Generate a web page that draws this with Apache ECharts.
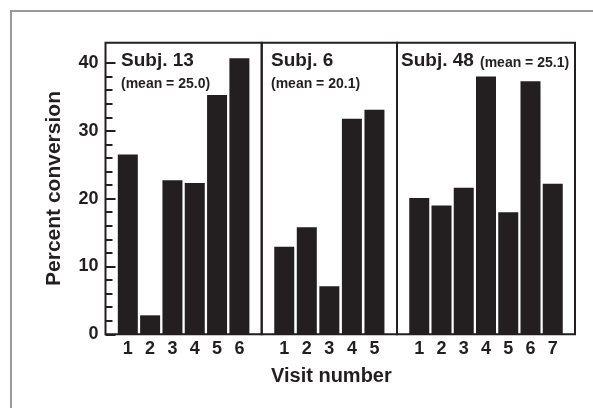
<!DOCTYPE html>
<html><head><meta charset="utf-8">
<script src="https://cdn.jsdelivr.net/npm/echarts@6/dist/echarts.min.js"></script>
<style>html,body{margin:0;padding:0;background:#fff}#c{width:593px;height:408px}</style>
</head><body><div id="c"></div>
<script>
const subjects = ['Subj. 13', 'Subj. 6', 'Subj. 48'];
const means = ['(mean = 25.0)', '(mean = 20.1)', '(mean = 25.1)'];
const visits13 = [1, 2, 3, 4, 5, 6];
const values13 = [26.5, 2.8, 22.7, 22.3, 35.3, 40.7];
const visits6 = [1, 2, 3, 4, 5];
const values6 = [12.9, 15.8, 7.1, 31.8, 33.1];
const visits48 = [1, 2, 3, 4, 5, 6, 7];
const values48 = [20.1, 19.0, 21.6, 38.0, 18.0, 37.3, 22.2];
const yMajorTicks = [0, 10, 20, 30, 40];
const yMinorTicks = [0, 2, 4, 6, 8, 10, 12, 14, 16, 18, 20, 22, 24, 26, 28, 30, 32, 34, 36, 38, 40];
const yAxisName = 'Percent conversion';
const xAxisName = 'Visit number';

const INK = '#231f20';
const FONT = '"Liberation Sans", Arial, Helvetica, sans-serif';
const Y_MAX = 43;

const panels = [
  { visits: visits13, values: values13, left: 105.5, width: 156.2, xmax: 7 },
  { visits: visits6, values: values6, left: 261.7, width: 135.3, xmax: 6 },
  { visits: visits48, values: values48, left: 397, width: 178, xmax: 8 }
];

const grid = panels.map(p => ({
  left: p.left, top: 42.7, width: p.width, height: 291.6,
  show: true, borderColor: INK, borderWidth: 2, backgroundColor: 'transparent'
}));

const xAxis = panels.map((p, i) => ({
  type: 'value', gridIndex: i, min: 0, max: p.xmax,
  axisLine: { show: false }, splitLine: { show: false }, axisTick: { show: false },
  axisLabel: {
    customValues: p.visits, margin: 6,
    fontSize: 18, fontWeight: 'bold', fontFamily: FONT, color: INK
  }
}));

const yAxis = [
  {
    type: 'value', gridIndex: 0, min: 0, max: Y_MAX, position: 'left',
    axisLine: { show: false }, splitLine: { show: false },
    axisTick: { show: true, inside: true, length: 10, customValues: yMajorTicks, lineStyle: { color: INK, width: 2 } },
    axisLabel: { customValues: yMajorTicks, margin: 7, fontSize: 18, fontWeight: 'bold', fontFamily: FONT, color: INK },
    name: yAxisName, nameLocation: 'middle', nameGap: 41,
    nameTextStyle: { fontSize: 21, fontWeight: 'bold', fontFamily: FONT, color: INK }
  },
  {
    type: 'value', gridIndex: 0, min: 0, max: Y_MAX, position: 'left', offset: 0,
    axisLine: { show: false }, splitLine: { show: false },
    axisTick: { show: true, inside: true, length: 7, customValues: yMinorTicks, lineStyle: { color: INK, width: 2 } },
    axisLabel: { show: false }
  },
  { type: 'value', gridIndex: 1, min: 0, max: Y_MAX, show: false },
  { type: 'value', gridIndex: 2, min: 0, max: Y_MAX, show: false }
];

const series = panels.map((p, i) => ({
  type: 'bar', xAxisIndex: i, yAxisIndex: i === 0 ? 0 : i + 1,
  barWidth: 20, itemStyle: { color: INK },
  data: p.visits.map((v, k) => [v, p.values[k]]),
  silent: true
}));

const titleBig = { fontSize: 19, fontWeight: 'bold', fontFamily: FONT, color: INK };
const titleSmall = { fontSize: 14, fontWeight: 'bold', fontFamily: FONT, color: INK };
const title = [
  { text: subjects[0], left: 121, top: 51, padding: 0, textStyle: titleBig },
  { text: means[0], left: 121, top: 77, padding: 0, textStyle: titleSmall },
  { text: subjects[1], left: 271, top: 51, padding: 0, textStyle: titleBig },
  { text: means[1], left: 271, top: 77, padding: 0, textStyle: titleSmall },
  { text: subjects[2], left: 401, top: 51, padding: 0, textStyle: titleBig },
  { text: means[2], left: 480, top: 56, padding: 0, textStyle: titleSmall },
  { text: xAxisName, left: 271, top: 366, padding: 0, textStyle: { fontSize: 20, fontWeight: 'bold', fontFamily: FONT, color: INK } }
];

const chart = echarts.init(document.getElementById('c'), null, { renderer: 'canvas' });
chart.setOption({
  animation: false,
  backgroundColor: '#fff',
  title, grid, xAxis, yAxis, series,
  graphic: [{
    type: 'rect', z: -10, silent: true,
    shape: { x: 11, y: 11, width: 700, height: 500 },
    style: { fill: 'none', stroke: '#999999', lineWidth: 2 }
  }]
});
</script></body></html>
